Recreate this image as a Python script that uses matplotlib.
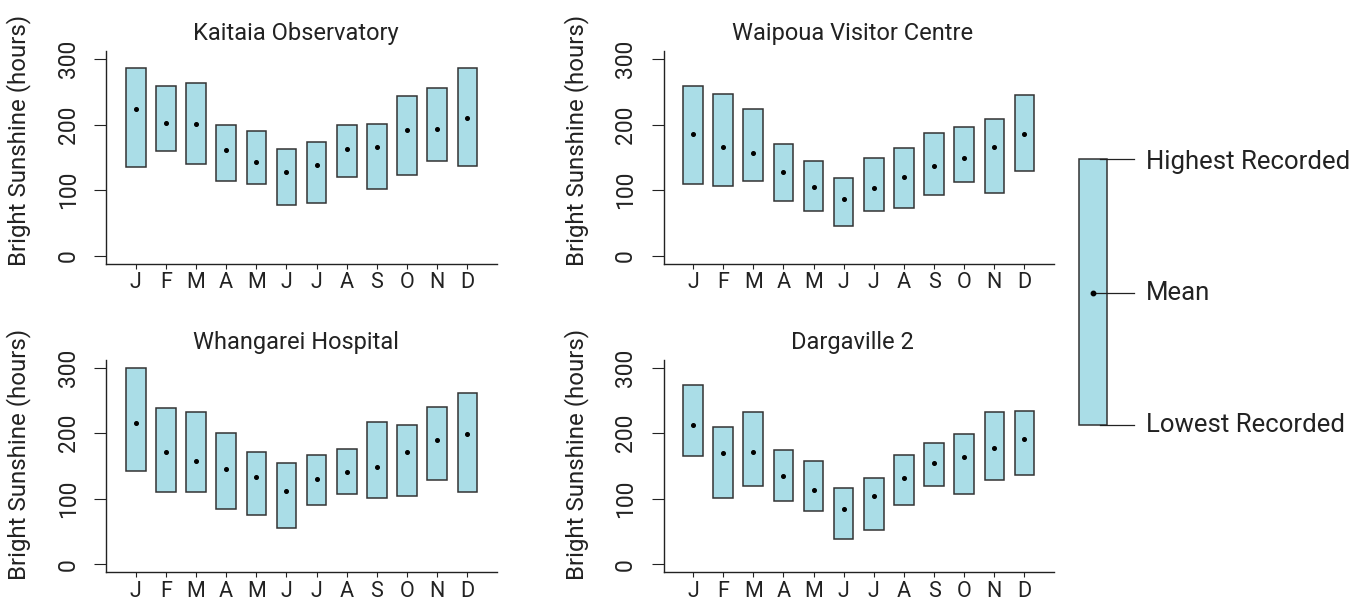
import matplotlib
matplotlib.use("Agg")
import matplotlib.pyplot as plt
import numpy as np

plt.rcParams['font.family'] = ['Roboto', 'DejaVu Sans']

months = ["J", "F", "M", "A", "M", "J", "J", "A", "S", "O", "N", "D"]
stations = ["Kaitaia Observatory", "Waipoua Visitor Centre",
            "Whangarei Hospital", "Dargaville 2"]

kaitaia_high = [286, 259, 264, 199, 190, 162, 174, 200, 201, 244, 256, 286]
kaitaia_low = [135, 159, 140, 114, 110, 78, 80, 120, 102, 123, 145, 136]
kaitaia_mean = [224, 202, 201, 161, 143, 127, 139, 162, 165, 191, 193, 210]

waipoua_high = [259, 247, 224, 170, 145, 118, 149, 164, 187, 196, 208, 245]
waipoua_low = [109, 106, 114, 84, 68, 45, 68, 73, 92, 112, 95, 129]
waipoua_mean = [185, 166, 157, 127, 105, 87, 103, 120, 136, 149, 165, 185]

whangarei_high = [299, 239, 232, 201, 171, 155, 167, 176, 217, 212, 240, 261]
whangarei_low = [143, 111, 111, 84, 76, 55, 90, 108, 101, 105, 129, 110]
whangarei_mean = [216, 172, 157, 145, 133, 112, 130, 141, 148, 171, 190, 199]

dargaville_high = [274, 210, 233, 174, 158, 116, 132, 167, 185, 199, 233, 234]
dargaville_low = [166, 101, 119, 97, 81, 39, 53, 91, 120, 107, 129, 137]
dargaville_mean = [213, 170, 172, 135, 113, 84, 104, 132, 154, 164, 178, 191]

y_ticks = [0, 100, 200, 300]

series = [
    (kaitaia_low, kaitaia_high, kaitaia_mean),
    (waipoua_low, waipoua_high, waipoua_mean),
    (whangarei_low, whangarei_high, whangarei_mean),
    (dargaville_low, dargaville_high, dargaville_mean),
]

FILL = "#aadde7"
EDGE = "#333333"
INK = "#222222"

W, H = 1354, 603
fig = plt.figure(figsize=(W / 100, H / 100), dpi=100)

# panel rectangles in pixels: left, top, right, bottom
panel_px = [
    (106.2, 51.1, 496.9, 263.5),
    (663.5, 51.1, 1054.0, 263.5),
    (106.2, 359.8, 496.9, 572.2),
    (663.5, 359.8, 1054.0, 572.2),
]
label_y = [0.58, 0.58, 0.555, 0.555]

x = np.arange(1, 13)
for i, (name, (low, high, mean)) in enumerate(zip(stations, series)):
    l, t, r, b = panel_px[i]
    ax = fig.add_axes([l / W, 1 - b / H, (r - l) / W, (b - t) / H])
    low = np.array(low)
    high = np.array(high)
    ax.bar(x, high - low, bottom=low, width=0.65, color=FILL,
           edgecolor=EDGE, linewidth=1.1, zorder=2)
    ax.plot(x, mean, "o", ms=2.6, color="black", zorder=3)
    ax.set_xlim(0.02, 12.98)
    ax.set_ylim(-12, 312)
    for s in ("top", "right"):
        ax.spines[s].set_visible(False)
    for s in ("left", "bottom"):
        ax.spines[s].set_linewidth(1.0)
        ax.spines[s].set_color(INK)
    ax.set_xticks(x)
    ax.set_xticklabels(months, fontsize=15.5, color=INK)
    ax.set_yticks(y_ticks)
    ax.set_yticklabels([str(v) for v in y_ticks], fontsize=16.5, color=INK,
                       rotation=90, va="center")
    ax.tick_params(axis="x", length=3.6, width=0.8, color=INK, pad=2.5)
    ax.tick_params(axis="y", length=8.6, width=0.8, color=INK, pad=10.5)
    ax.set_ylabel("Bright Sunshine (hours)", fontsize=17.3, color=INK)
    ax.yaxis.set_label_coords(-0.192, label_y[i])
    ax.text(0.4845, 1.052, name, transform=ax.transAxes, ha="center",
            va="baseline", fontsize=17, color=INK)

# key explaining the box elements
key = fig.add_axes([0, 0, 1, 1])
key.set_xlim(0, W)
key.set_ylim(H, 0)
key.axis("off")
bx0, bx1, by0, by1 = 1079, 1107, 159, 425
key.fill([bx0, bx1, bx1, bx0], [by0, by0, by1, by1], color=FILL,
         edgecolor=EDGE, linewidth=1.1)
key.plot([1100, 1134], [by0, by0], color=INK, lw=0.9)
key.plot([1100, 1134], [by1, by1], color=INK, lw=0.9)
key.plot([1093, 1134], [293, 293], color=INK, lw=0.9)
key.plot([1093], [293], "o", ms=3.2, color="black")
key.text(1146, 169.3, "Highest Recorded", fontsize=18.5, color=INK, va="baseline")
key.text(1146, 300, "Mean", fontsize=18.5, color=INK, va="baseline")
key.text(1146, 431.7, "Lowest Recorded", fontsize=18.5, color=INK, va="baseline")

fig.savefig("out.png", dpi=100)
